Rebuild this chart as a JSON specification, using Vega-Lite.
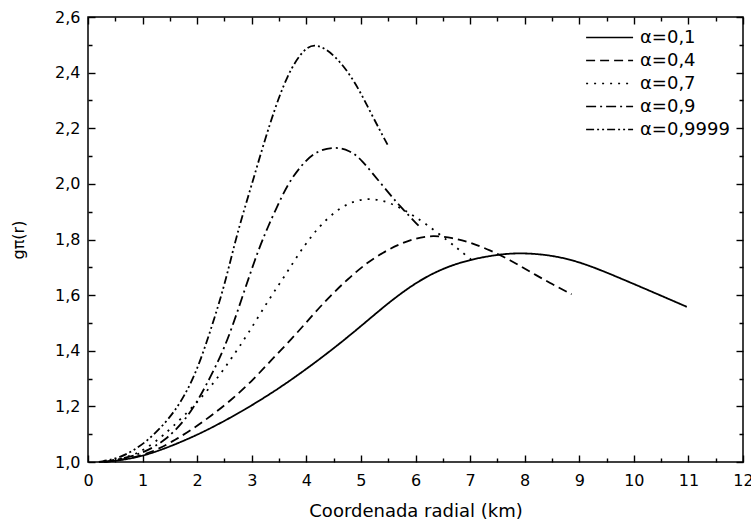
{
  "$schema": "https://vega.github.io/schema/vega-lite/v6.json",
  "width": 655,
  "height": 445,
  "autosize": "none",
  "padding": {"left": 88, "top": 17, "right": 8, "bottom": 64},
  "background": "white",
  "config": {
    "font": "DejaVu Sans",
    "view": {"stroke": "black", "strokeWidth": 1.5},
    "axis": {"grid": false, "domain": false, "zindex": 1, "tickColor": "black", "tickWidth": 1.4, "labelColor": "black", "titleColor": "black", "labelFont": "DejaVu Sans", "titleFont": "DejaVu Sans", "labelFontSize": 15, "titleFontSize": 17, "titleFontWeight": "normal"}
  },
  "data": {"values": [
    {"a": "α=0,1", "r": 0.2, "g": 1.0},
    {"a": "α=0,1", "r": 0.5, "g": 1.003},
    {"a": "α=0,1", "r": 1.0, "g": 1.02},
    {"a": "α=0,1", "r": 1.5, "g": 1.055},
    {"a": "α=0,1", "r": 2.0, "g": 1.097},
    {"a": "α=0,1", "r": 2.5, "g": 1.147},
    {"a": "α=0,1", "r": 3.0, "g": 1.203},
    {"a": "α=0,1", "r": 3.5, "g": 1.265},
    {"a": "α=0,1", "r": 4.0, "g": 1.334},
    {"a": "α=0,1", "r": 4.5, "g": 1.408},
    {"a": "α=0,1", "r": 5.0, "g": 1.488},
    {"a": "α=0,1", "r": 5.5, "g": 1.572},
    {"a": "α=0,1", "r": 6.0, "g": 1.645},
    {"a": "α=0,1", "r": 6.5, "g": 1.697},
    {"a": "α=0,1", "r": 7.0, "g": 1.728},
    {"a": "α=0,1", "r": 7.5, "g": 1.746},
    {"a": "α=0,1", "r": 7.9, "g": 1.752},
    {"a": "α=0,1", "r": 8.4, "g": 1.746},
    {"a": "α=0,1", "r": 8.9, "g": 1.726},
    {"a": "α=0,1", "r": 9.4, "g": 1.69},
    {"a": "α=0,1", "r": 10.0, "g": 1.64},
    {"a": "α=0,1", "r": 10.5, "g": 1.598},
    {"a": "α=0,1", "r": 10.97, "g": 1.558},

    {"a": "α=0,4", "r": 0.3, "g": 1.0},
    {"a": "α=0,4", "r": 0.7, "g": 1.01},
    {"a": "α=0,4", "r": 1.0, "g": 1.025},
    {"a": "α=0,4", "r": 1.28, "g": 1.045},
    {"a": "α=0,4", "r": 1.6, "g": 1.08},
    {"a": "α=0,4", "r": 1.9, "g": 1.116},
    {"a": "α=0,4", "r": 2.25, "g": 1.165},
    {"a": "α=0,4", "r": 2.62, "g": 1.222},
    {"a": "α=0,4", "r": 3.0, "g": 1.29},
    {"a": "α=0,4", "r": 3.35, "g": 1.365},
    {"a": "α=0,4", "r": 3.73, "g": 1.442},
    {"a": "α=0,4", "r": 4.07, "g": 1.518},
    {"a": "α=0,4", "r": 4.4, "g": 1.59},
    {"a": "α=0,4", "r": 4.76, "g": 1.658},
    {"a": "α=0,4", "r": 5.1, "g": 1.715},
    {"a": "α=0,4", "r": 5.4, "g": 1.753},
    {"a": "α=0,4", "r": 5.7, "g": 1.783},
    {"a": "α=0,4", "r": 6.0, "g": 1.805},
    {"a": "α=0,4", "r": 6.32, "g": 1.815},
    {"a": "α=0,4", "r": 6.68, "g": 1.806},
    {"a": "α=0,4", "r": 7.0, "g": 1.79},
    {"a": "α=0,4", "r": 7.36, "g": 1.762},
    {"a": "α=0,4", "r": 7.73, "g": 1.727},
    {"a": "α=0,4", "r": 8.1, "g": 1.684},
    {"a": "α=0,4", "r": 8.46, "g": 1.644},
    {"a": "α=0,4", "r": 8.86, "g": 1.603},

    {"a": "α=0,7", "r": 0.3, "g": 1.0},
    {"a": "α=0,7", "r": 0.7, "g": 1.015},
    {"a": "α=0,7", "r": 1.0, "g": 1.04},
    {"a": "α=0,7", "r": 1.25, "g": 1.075},
    {"a": "α=0,7", "r": 1.52, "g": 1.12},
    {"a": "α=0,7", "r": 1.96, "g": 1.205},
    {"a": "α=0,7", "r": 2.33, "g": 1.29},
    {"a": "α=0,7", "r": 2.62, "g": 1.37},
    {"a": "α=0,7", "r": 2.93, "g": 1.46},
    {"a": "α=0,7", "r": 3.33, "g": 1.59},
    {"a": "α=0,7", "r": 3.61, "g": 1.67},
    {"a": "α=0,7", "r": 3.88, "g": 1.755},
    {"a": "α=0,7", "r": 4.07, "g": 1.805},
    {"a": "α=0,7", "r": 4.25, "g": 1.85},
    {"a": "α=0,7", "r": 4.63, "g": 1.92},
    {"a": "α=0,7", "r": 5.07, "g": 1.952},
    {"a": "α=0,7", "r": 5.5, "g": 1.937},
    {"a": "α=0,7", "r": 5.85, "g": 1.9},
    {"a": "α=0,7", "r": 6.17, "g": 1.86},
    {"a": "α=0,7", "r": 6.63, "g": 1.79},
    {"a": "α=0,7", "r": 6.85, "g": 1.755},
    {"a": "α=0,7", "r": 7.09, "g": 1.716},

    {"a": "α=0,9", "r": 0.3, "g": 1.0},
    {"a": "α=0,9", "r": 0.7, "g": 1.015},
    {"a": "α=0,9", "r": 1.0, "g": 1.032},
    {"a": "α=0,9", "r": 1.41, "g": 1.075},
    {"a": "α=0,9", "r": 1.83, "g": 1.16},
    {"a": "α=0,9", "r": 2.14, "g": 1.265},
    {"a": "α=0,9", "r": 2.51, "g": 1.41},
    {"a": "α=0,9", "r": 2.78, "g": 1.565},
    {"a": "α=0,9", "r": 3.06, "g": 1.73},
    {"a": "α=0,9", "r": 3.24, "g": 1.82},
    {"a": "α=0,9", "r": 3.42, "g": 1.9},
    {"a": "α=0,9", "r": 3.66, "g": 2.0},
    {"a": "α=0,9", "r": 3.9, "g": 2.065},
    {"a": "α=0,9", "r": 4.15, "g": 2.115},
    {"a": "α=0,9", "r": 4.5, "g": 2.135},
    {"a": "α=0,9", "r": 4.8, "g": 2.12},
    {"a": "α=0,9", "r": 5.0, "g": 2.09},
    {"a": "α=0,9", "r": 5.37, "g": 2.0},
    {"a": "α=0,9", "r": 5.71, "g": 1.92},
    {"a": "α=0,9", "r": 6.08, "g": 1.845},

    {"a": "α=0,9999", "r": 0.2, "g": 1.0},
    {"a": "α=0,9999", "r": 0.6, "g": 1.015},
    {"a": "α=0,9999", "r": 0.9, "g": 1.05},
    {"a": "α=0,9999", "r": 1.15, "g": 1.086},
    {"a": "α=0,9999", "r": 1.59, "g": 1.176},
    {"a": "α=0,9999", "r": 1.96, "g": 1.306},
    {"a": "α=0,9999", "r": 2.25, "g": 1.475},
    {"a": "α=0,9999", "r": 2.51, "g": 1.64},
    {"a": "α=0,9999", "r": 2.72, "g": 1.815},
    {"a": "α=0,9999", "r": 2.99, "g": 1.99},
    {"a": "α=0,9999", "r": 3.33, "g": 2.22},
    {"a": "α=0,9999", "r": 3.66, "g": 2.4},
    {"a": "α=0,9999", "r": 3.97, "g": 2.49},
    {"a": "α=0,9999", "r": 4.19, "g": 2.505},
    {"a": "α=0,9999", "r": 4.52, "g": 2.465},
    {"a": "α=0,9999", "r": 4.89, "g": 2.37},
    {"a": "α=0,9999", "r": 5.18, "g": 2.255},
    {"a": "α=0,9999", "r": 5.49, "g": 2.14}
  ]},
  "layer": [
    {
      "mark": {"type": "line", "color": "black", "strokeWidth": 1.8, "interpolate": "basis"},
      "encoding": {
        "x": {"field": "r", "type": "quantitative", "scale": {"domain": [0, 12], "nice": false},
          "axis": {"orient": "bottom", "title": "Coordenada radial (km)", "titlePadding": 14, "titleFontSize": 18,
            "values": [0,0.5,1,1.5,2,2.5,3,3.5,4,4.5,5,5.5,6,6.5,7,7.5,8,8.5,9,9.5,10,10.5,11,11.5,12],
            "labelExpr": "datum.value % 1 === 0 ? format(datum.value, 'd') : ''",
            "offset": -7, "tickSize": 7,
            "tickDash": {"condition": {"test": "datum.value % 1 === 0", "value": [10, 0]}, "value": [0, 3, 4, 20]},
            "labelFontSize": 16, "labelPadding": 10, "labelFlush": false}},
        "y": {"field": "g", "type": "quantitative", "scale": {"domain": [1.0, 2.6], "nice": false, "zero": false},
          "axis": {"orient": "left", "title": "gπ(r)", "titlePadding": 28, "titleFontSize": 16,
            "values": [1.0,1.1,1.2,1.3,1.4,1.5,1.6,1.7,1.8,1.9,2.0,2.1,2.2,2.3,2.4,2.5,2.6],
            "labelExpr": "round(datum.value*10) % 2 === 0 ? replace(format(datum.value, '.1f'), '.', ',') : ''",
            "offset": -7, "tickSize": 7,
            "tickDash": {"condition": {"test": "round(datum.value*10) % 2 === 0", "value": [10, 0]}, "value": [0, 3, 4, 20]},
            "labelFontSize": 16, "labelPadding": 8, "labelFlush": false}},
        "strokeDash": {"field": "a", "type": "nominal",
          "scale": {"domain": ["α=0,1", "α=0,4", "α=0,7", "α=0,9", "α=0,9999"],
            "range": [[1, 0], [9, 5], [2, 6], [10, 4, 2, 4], [8, 3, 2, 3, 2, 3]]},
          "legend": {"title": null, "orient": "none", "legendX": 497, "legendY": 10,
            "symbolType": "M-1,0H4", "symbolSize": 353, "symbolStrokeWidth": 1.6, "symbolStrokeColor": "black",
            "labelOffset": 34, "labelFontSize": 18, "labelFont": "DejaVu Sans", "labelColor": "black",
            "rowPadding": 3, "padding": 0}}
      }
    },
    {
      "mark": {"type": "point", "opacity": 0},
      "encoding": {
        "x": {"field": "r", "type": "quantitative", "scale": {"domain": [0, 12], "nice": false},
          "axis": {"orient": "top", "title": null, "labels": false,
            "values": [0,0.5,1,1.5,2,2.5,3,3.5,4,4.5,5,5.5,6,6.5,7,7.5,8,8.5,9,9.5,10,10.5,11,11.5,12],
            "offset": -7, "tickSize": 7,
            "tickDash": {"condition": {"test": "datum.value % 1 === 0", "value": [10, 0]}, "value": [0, 3, 4, 20]}}},
        "y": {"field": "g", "type": "quantitative", "scale": {"domain": [1.0, 2.6], "nice": false, "zero": false},
          "axis": {"orient": "right", "title": null, "labels": false,
            "values": [1.0,1.1,1.2,1.3,1.4,1.5,1.6,1.7,1.8,1.9,2.0,2.1,2.2,2.3,2.4,2.5,2.6],
            "offset": -7, "tickSize": 7,
            "tickDash": {"condition": {"test": "round(datum.value*10) % 2 === 0", "value": [10, 0]}, "value": [0, 3, 4, 20]}}}
      }
    }
  ],
  "resolve": {"axis": {"x": "independent", "y": "independent"}}
}
